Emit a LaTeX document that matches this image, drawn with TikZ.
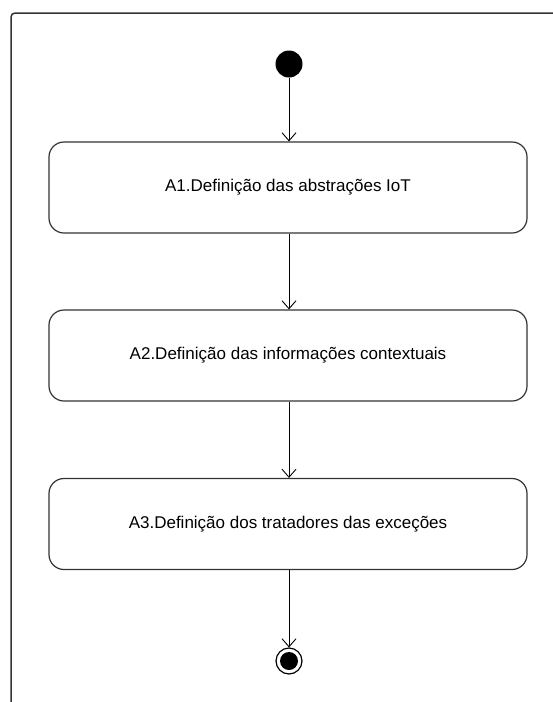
\documentclass[tikz,border=0pt]{standalone}
\usepackage{fontspec}
\setmainfont{Liberation Sans}
\usetikzlibrary{arrows.meta}
\begin{document}
\begin{tikzpicture}[x=1pt,y=-1pt,
  activity/.style={draw=black!80, line width=1.2pt, rounded corners=15pt,
    minimum width=478pt, minimum height=91pt, inner sep=0pt,
    font=\fontsize{17}{20}\selectfont},
  flow/.style={draw=black, line width=0.9pt,
    -{Straight Barb[length=8pt,width=14pt,line width=0.9pt]}}]
  \useasboundingbox (0,0) rectangle (553,702);
  \fill[white] (0,0) rectangle (553,702);
  % frame
  \draw[black!80, line width=1.5pt, rounded corners=4pt] (11,702) -- (11,13) -- (553,13);
  % start / end states
  \node[circle, fill=black, minimum size=27pt, inner sep=0pt] (start) at (289,64) {};
  \node[activity] (a1) at (288,187.5) {A1.Definição das abstrações IoT};
  \node[activity] (a2) at (288,355.5) {A2.Definição das informações contextuais};
  \node[activity] (a3) at (288,524) {A3.Definição dos tratadores das exceções};
  \node[circle, draw=black, line width=1.2pt, minimum size=26pt, inner sep=0pt] (end) at (289,661) {};
  \fill[black] (end.center) circle (9pt);
  % transitions
  \draw[flow] (start) -- (start |- a1.north);
  \draw[flow] (a1.south -| start) -- (start |- a2.north);
  \draw[flow] (a2.south -| start) -- (start |- a3.north);
  \draw[flow] (a3.south -| start) -- (end);
\end{tikzpicture}
\end{document}
